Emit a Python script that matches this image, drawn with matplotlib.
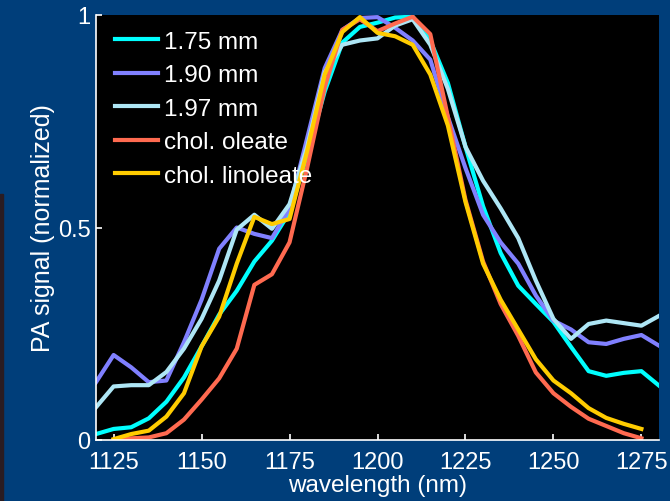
import numpy as np
import matplotlib
matplotlib.use("Agg")
import matplotlib.pyplot as plt
from matplotlib.patches import Rectangle

plt.rcParams['font.family'] = ['Liberation Sans', 'DejaVu Sans']

# tissue spectra, 5 nm steps
wl_tissue = np.arange(1120, 1281, 5)
sig_175 = [0.014, 0.026, 0.03, 0.051, 0.09, 0.147, 0.22, 0.295, 0.351, 0.42, 0.469,
           0.536, 0.67, 0.82, 0.935, 0.972, 0.982, 0.994, 0.996, 0.94, 0.84, 0.69,
           0.55, 0.44, 0.363, 0.32, 0.278, 0.219, 0.162, 0.151, 0.158, 0.162, 0.128]
sig_190 = [0.136, 0.20, 0.171, 0.136, 0.14, 0.23, 0.33, 0.45, 0.50, 0.485, 0.475,
           0.545, 0.71, 0.875, 0.965, 0.993, 0.995, 0.97, 0.94, 0.895, 0.76, 0.64,
           0.53, 0.465, 0.415, 0.34, 0.281, 0.26, 0.23, 0.226, 0.238, 0.247, 0.222]
sig_197 = [0.077, 0.126, 0.129, 0.129, 0.16, 0.215, 0.285, 0.375, 0.495, 0.53, 0.497,
           0.555, 0.69, 0.865, 0.93, 0.94, 0.945, 0.975, 0.99, 0.93, 0.826, 0.69,
           0.61, 0.545, 0.475, 0.375, 0.285, 0.238, 0.273, 0.281, 0.275, 0.269, 0.292]

# reference lipids
wl_chol = np.arange(1125, 1276, 5)
chol_oleate = [0.0, 0.004, 0.006, 0.016, 0.048, 0.095, 0.145, 0.215, 0.365, 0.39, 0.465,
               0.64, 0.83, 0.965, 0.99, 0.962, 0.98, 0.996, 0.955, 0.76, 0.565, 0.42,
               0.32, 0.245, 0.159, 0.11, 0.078, 0.05, 0.033, 0.016, 0.004]
chol_linoleate = [0.002, 0.014, 0.022, 0.055, 0.11, 0.22, 0.29, 0.415, 0.525, 0.508, 0.52,
                  0.68, 0.86, 0.96, 0.995, 0.958, 0.95, 0.93, 0.86, 0.74, 0.56, 0.415,
                  0.33, 0.26, 0.19, 0.14, 0.11, 0.075, 0.052, 0.038, 0.026]

bg = '#003e7a'
fig = plt.figure(figsize=(6.7, 5.02), dpi=100, facecolor=bg)
fig.patches.append(Rectangle((0, 0), 3 / 670, 307 / 502, transform=fig.transFigure,
                             color='#2a1c22', zorder=0))
ax = fig.add_axes([96 / 670, 61 / 502, 563 / 670, 425 / 502])
ax.set_facecolor('black')

lw = 3.0
ax.plot(wl_tissue, sig_175, color='#00ffff', lw=lw, label='1.75 mm')
ax.plot(wl_tissue, sig_190, color='#8080ff', lw=lw, label='1.90 mm')
ax.plot(wl_tissue, sig_197, color='#aee6f5', lw=lw, label='1.97 mm')
ax.plot(wl_chol, chol_oleate, color='#ff6a50', lw=lw, label='chol. oleate')
ax.plot(wl_chol, chol_linoleate, color='#ffcc00', lw=lw, label='chol. linoleate')

ax.set_xlim(1120, 1280)
ax.set_ylim(0, 1)
ax.set_xticks([1125, 1150, 1175, 1200, 1225, 1250, 1275])
ax.set_yticks([0, 0.5, 1])
ax.set_yticklabels(['0', '0.5', '1'])

for s in ['top', 'right']:
    ax.spines[s].set_visible(False)
for s in ['left', 'bottom']:
    ax.spines[s].set_color('white')
    ax.spines[s].set_linewidth(1.2)
ax.tick_params(direction='in', colors='white', labelsize=17, length=4, width=1.2)
ax.tick_params(axis='x', pad=8)
ax.tick_params(axis='y', pad=4)

ax.set_xlabel('wavelength (nm)', color='white', fontsize=17.5, labelpad=1)
ax.set_ylabel('PA signal (normalized)', color='white', fontsize=18, labelpad=2)

leg = ax.legend(loc='upper left', bbox_to_anchor=(0.005, 1.0), frameon=False,
                fontsize=17.5, handlelength=1.8, handletextpad=0.25, labelspacing=0.47,
                borderaxespad=0.25)
for t in leg.get_texts():
    t.set_color('white')

fig.savefig('out.png', dpi=100, facecolor=bg)
